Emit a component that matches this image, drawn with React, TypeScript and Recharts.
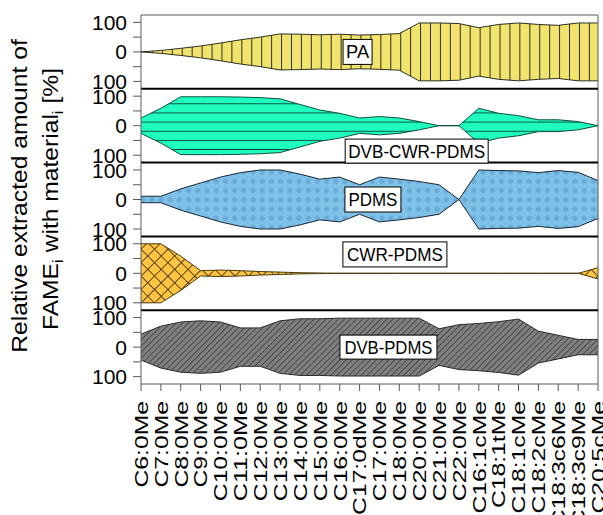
import React from "react";
import { AreaChart, Area, XAxis, YAxis, ReferenceLine, ReferenceDot } from "recharts";

const categories = [
  "C6:0Me", "C7:0Me", "C8:0Me", "C9:0Me", "C10:0Me", "C11:0Me", "C12:0Me",
  "C13:0Me", "C14:0Me", "C15:0Me", "C16:0Me", "C17:0dMe", "C17:0Me", "C18:0Me",
  "C20:0Me", "C21:0Me", "C22:0Me", "C16:1cMe", "C18:1tMe", "C18:1cMe",
  "C18:2cMe", "C18:3c6Me", "C18:3c9Me", "C20:5cMe",
];

// half widths of each violin band, % (drawn as -v .. +v)
const pa = [0, 5, 12, 20, 30, 41, 50, 61, 60, 58, 60, 57, 59, 62, 98, 98, 96, 82, 93, 98, 93, 90, 98, 98];
const dvbCwrPdms = [26, 59, 98, 98, 98, 97, 95, 91, 72, 53, 42, 26, 31, 26, 14, 0, 0, 59, 42, 34, 20, 20, 14, 0];
const pdms = [11, 11, 36, 56, 76, 91, 100, 100, 86, 69, 76, 50, 76, 69, 61, 50, 0, 100, 98, 97, 91, 98, 92, 64];
const cwrPdms = [100, 100, 58, 9, 11, 9, 6, 4, 2, 1, 0, 0, 0, 0, 0, 0, 0, 0, 0, 0, 0, 0, 0, 19];
const dvbPdms = [44, 71, 85, 89, 85, 65, 65, 89, 96, 96, 98, 98, 98, 98, 98, 62, 76, 80, 86, 95, 54, 40, 26, 26];

const panelNames = ["PA", "DVB-CWR-PDMS", "PDMS", "CWR-PDMS", "DVB-PDMS"];
const panelCenters = [1125, 875, 625, 375, 125];
const separators = [1000, 750, 500, 250];

const panels = [
  { key: "pa", values: pa, fill: "url(#hPA)", stroke: "#2e2e20" },
  { key: "dcp", values: dvbCwrPdms, fill: "url(#hDCP)", stroke: "#0d4f3d" },
  { key: "pdms", values: pdms, fill: "url(#hPDMS)", stroke: "#1b2633" },
  { key: "cp", values: cwrPdms, fill: "url(#hCP)", stroke: "#4a3a10" },
  { key: "dp", values: dvbPdms, fill: "url(#hDP)", stroke: "#2a2a2a" },
];

// label boxes: category, offset from panel centre, pixel nudge, box size
const labelBoxes = [
  { cat: "C17:0dMe", off: 0, dx: -2, w: 29, h: 25, tl: 23 },
  { cat: "C20:0Me", off: -86, dx: -2.5, w: 143, h: 24, tl: 137 },
  { cat: "C17:0Me", off: 0, dx: -6.5, w: 56, h: 25, tl: 49 },
  { cat: "C18:0Me", off: 64, dx: -4.4, w: 104, h: 25, tl: 96 },
  { cat: "C17:0Me", off: 0, dx: 9, w: 97, h: 24, tl: 88 },
];

const data = categories.map((name, i) => {
  const row: Record<string, any> = { name };
  panels.forEach((p, k) => {
    const c = panelCenters[k];
    row[p.key] = [c - p.values[i], c + p.values[i]];
  });
  return row;
});

const yTicks = panelCenters.flatMap((c) => [c - 100, c - 50, c, c + 50, c + 100]);

const font = "'Liberation Sans', Arial, sans-serif";
const axisColor = "#5a5a5a";

// approximate Arial advance widths (em) for the tick label glyphs
const glyphW: Record<string, number> = { C: 0.722, M: 0.833, ":": 0.278, c: 0.5, t: 0.278 };
const labelLen = (s: string) =>
  s.split("").reduce((sum, ch) => sum + (glyphW[ch] ?? 0.556), 0) * 24.7;

const YTick = ({ x, y, payload }: any) => {
  const rel = (((payload.value % 250) + 250) % 250) - 125;
  if (Math.abs(rel) !== 100 && rel !== 0) return null;
  return (
    <text x={x} y={y} dy="0.36em" textAnchor="end" fontSize={21} fontFamily={font} fill="#000">
      {Math.abs(rel)}
    </text>
  );
};

const XTick = ({ x, y, payload }: any) => (
  <text
    transform={`translate(${x},${y + 4}) rotate(-90)`}
    textAnchor="end"
    dy="0.36em"
    fontSize={19}
    fontFamily={font}
    fill="#000"
    textLength={labelLen(payload.value)}
    lengthAdjust="spacingAndGlyphs"
  >
    {payload.value}
  </text>
);

const makeBox = (name: string, b: (typeof labelBoxes)[number]) => (props: any) => {
  const cx = props.cx + b.dx;
  const cy = props.cy;
  return (
    <g>
      <rect x={cx - b.w / 2} y={cy - b.h / 2} width={b.w} height={b.h} fill="#fff" stroke="#000" strokeWidth={1} />
      <text
        x={cx}
        y={cy}
        dy="0.36em"
        textAnchor="middle"
        fontSize={18}
        fontFamily={font}
        fill="#000"
        textLength={b.tl}
        lengthAdjust="spacingAndGlyphs"
      >
        {name}
      </text>
    </g>
  );
};

const App = () => {
  return (
    <div style={{ position: "absolute", left: 0, top: 0, width: 603, height: 515 }}>
      <AreaChart width={603} height={515} data={data} margin={{ top: 15, right: 5, bottom: 0, left: 0 }}>
        <defs>
          <pattern id="hPA" patternUnits="userSpaceOnUse" x={3} y={0} width={9.93} height={10}>
            <rect width={9.93} height={10} fill="#f0e46e" />
            <line x1={0.5} y1={0} x2={0.5} y2={10} stroke="#2e2e20" strokeWidth={1} />
          </pattern>
          <pattern id="hDCP" patternUnits="userSpaceOnUse" x={0} y={103.3} width={10} height={9.15}>
            <rect width={10} height={9.15} fill="#1effc0" />
            <line x1={0} y1={0.5} x2={10} y2={0.5} stroke="#0d4f3d" strokeWidth={1} />
          </pattern>
          <pattern id="hPDMS" patternUnits="userSpaceOnUse" x={0} y={2} width={9.2} height={9.2}>
            <rect width={9.2} height={9.2} fill="#7fc2e8" />
            <circle cx={4.6} cy={4.6} r={2.6} fill="#6aaad6" />
          </pattern>
          <pattern id="hCP" patternUnits="userSpaceOnUse" x={0} y={0} width={9.5} height={9.5} patternTransform="rotate(45)">
            <rect width={9.5} height={9.5} fill="#ffc441" />
            <line x1={0} y1={0.5} x2={9.5} y2={0.5} stroke="#4a3a10" strokeWidth={0.9} />
            <line x1={0.5} y1={0} x2={0.5} y2={9.5} stroke="#4a3a10" strokeWidth={0.9} />
          </pattern>
          <pattern id="hDP" patternUnits="userSpaceOnUse" width={4.3} height={4.3} patternTransform="rotate(45)">
            <rect width={4.3} height={4.3} fill="#808080" />
            <line x1={0.5} y1={0} x2={0.5} y2={4.3} stroke="#3a3a3a" strokeWidth={0.8} />
          </pattern>
        </defs>
        <XAxis
          dataKey="name"
          interval={0}
          height={131}
          tickSize={7}
          tickMargin={6}
          padding={{ left: 0, right: 0 }}
          axisLine={{ stroke: axisColor }}
          tickLine={{ stroke: axisColor }}
          tick={<XTick />}
        />
        <YAxis
          type="number"
          domain={[0, 1250]}
          ticks={yTicks}
          width={141}
          tickSize={8}
          tickMargin={6}
          interval={0}
          axisLine={{ stroke: axisColor }}
          tickLine={{ stroke: axisColor }}
          tick={<YTick />}
        />
        {panels.map((p) => (
          <Area
            key={p.key}
            type="linear"
            dataKey={p.key}
            fill={p.fill}
            fillOpacity={1}
            stroke={p.stroke}
            strokeWidth={1}
            dot={false}
            activeDot={false}
            isAnimationActive={false}
          />
        ))}
        <ReferenceLine y={1250} stroke={axisColor} strokeWidth={1} />
        <ReferenceLine x={categories[categories.length - 1]} stroke={axisColor} strokeWidth={1} />
        {separators.map((s) => (
          <ReferenceLine key={s} y={s} stroke="#000" strokeWidth={2} />
        ))}
        {labelBoxes.map((b, k) => (
          <ReferenceDot
            key={k}
            x={b.cat}
            y={panelCenters[k] + b.off}
            ifOverflow="visible"
            shape={makeBox(panelNames[k], b)}
          />
        ))}
      </AreaChart>
      <svg width={603} height={515} style={{ position: "absolute", left: 0, top: 0, pointerEvents: "none" }}>
        <text
          transform="translate(27,196) rotate(-90) scale(1.12,1)"
          textAnchor="middle"
          fontSize={22}
          fontFamily={font}
          fill="#000"
        >
          Relative extracted amount of
        </text>
        <text
          transform="translate(58,199) rotate(-90) scale(1.12,1)"
          textAnchor="middle"
          fontSize={22}
          fontFamily={font}
          fill="#000"
        >
          FAME
          <tspan fontSize={15} dy={5}>i</tspan>
          <tspan dy={-5}> with material</tspan>
          <tspan fontSize={15} dy={5}>i</tspan>
          <tspan dy={-5}> [%]</tspan>
        </text>
      </svg>
    </div>
  );
};

export default App;
